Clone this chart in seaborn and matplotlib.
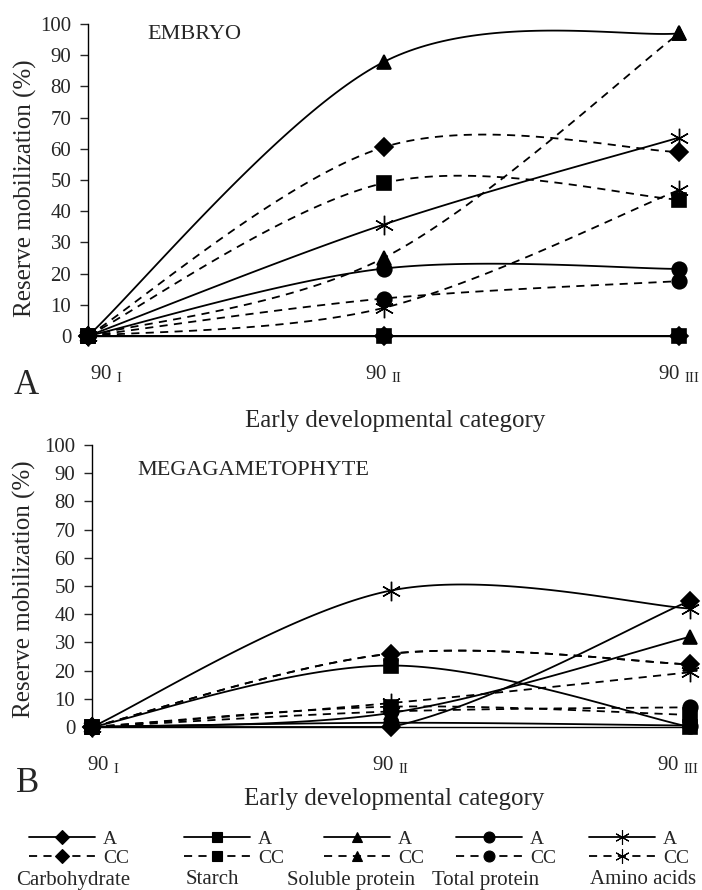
import numpy as np
import pandas as pd
import seaborn as sns
import matplotlib.pyplot as plt
import matplotlib.transforms as mtransforms
from matplotlib.lines import Line2D

sns.set_style("white")
plt.rcParams['font.family'] = ['Liberation Serif', 'DejaVu Serif']
plt.rcParams['mathtext.fontset'] = 'custom'
plt.rcParams['mathtext.rm'] = 'Liberation Serif'

# x categories
stages = [0, 1, 2]
stage_labels = ['90 $_{\\mathrm{I}}$', '90 $_{\\mathrm{II}}$', '90 $_{\\mathrm{III}}$']

# embryo (%)
emb_carb_a = [0, 0, 0]
emb_carb_cc = [0, 60.5, 59]
emb_starch_a = [0, 0, 0]
emb_starch_cc = [0, 49, 43.7]
emb_solprot_a = [0, 87.8, 97]
emb_solprot_cc = [0, 25, 97]
emb_totprot_a = [0, 21.6, 21.5]
emb_totprot_cc = [0, 12, 17.6]
emb_amino_a = [0, 35.7, 63.6]
emb_amino_cc = [0, 9, 46.8]

# megagametophyte (%)
meg_carb_a = [0, 0, 44.8]
meg_carb_cc = [0, 26, 22.2]
meg_starch_a = [0, 21.8, 0]
meg_starch_cc = [0, 7.2, 4.3]
meg_solprot_a = [0, 5, 32]
meg_solprot_cc = [0, 26, 22.2]
meg_totprot_a = [0, 1.5, 0.5]
meg_totprot_cc = [0, 5.5, 7]
meg_amino_a = [0, 48.4, 42]
meg_amino_cc = [0, 8.5, 19.4]

reserves = ['Carbohydrate', 'Starch', 'Soluble protein', 'Total protein', 'Amino acids']
markers = ['D', 's', '^', 'o', (6, 2, 0)]
msizes = [9, 10, 10.5, 10.5, 14]

emb = [(emb_carb_a, emb_carb_cc), (emb_starch_a, emb_starch_cc), (emb_solprot_a, emb_solprot_cc),
       (emb_totprot_a, emb_totprot_cc), (emb_amino_a, emb_amino_cc)]
meg = [(meg_carb_a, meg_carb_cc), (meg_starch_a, meg_starch_cc), (meg_solprot_a, meg_solprot_cc),
       (meg_totprot_a, meg_totprot_cc), (meg_amino_a, meg_amino_cc)]

DASH = (0, (4.5, 3.5))


def smooth(xs, ys, n=60):
    # excel-like smoothed line (catmull-rom bezier), kept above the axis
    p = np.column_stack([xs, ys]).astype(float)
    p = np.vstack([p[0], p, p[-1]])
    out = []
    t = np.linspace(0, 1, n)[:, None]
    for i in range(1, len(p) - 2):
        p0, p1, p2, p3 = p[i - 1], p[i], p[i + 1], p[i + 2]
        c1 = p1 + (p2 - p0) / 6
        c2 = p2 - (p3 - p1) / 6
        seg = (1 - t) ** 3 * p1 + 3 * (1 - t) ** 2 * t * c1 + 3 * (1 - t) * t ** 2 * c2 + t ** 3 * p2
        out.append(seg)
    out = np.vstack(out)
    out[:, 1] = np.maximum(out[:, 1], 0)
    return out


def draw(ax, series, title, tpos, shifts):
    for k, (a, cc) in enumerate(series):
        for vals, ls in ((a, '-'), (cc, DASH)):
            curve = smooth(stages, vals)
            sns.lineplot(x=curve[:, 0], y=curve[:, 1], ax=ax, color='black', lw=1.3,
                         linestyle=ls, sort=False, estimator=None, clip_on=False)
            filled = markers[k] != (6, 2, 0)
            ax.plot(stages, vals, linestyle='none', marker=markers[k], ms=msizes[k],
                    mfc='black', mec='black', mew=1.2 if filled else 1.0,
                    clip_on=False, zorder=4)
    ax.set_xlim(0, 2.02)
    ax.set_ylim(0, 100)
    ax.set_yticks(range(0, 101, 10))
    ax.set_xticks(stages)
    ax.set_xticklabels(stage_labels)
    ax.tick_params(axis='x', length=0, pad=20, labelsize=15)
    ax.tick_params(axis='y', length=6, width=1, direction='out', pad=6, labelsize=15, left=True)
    for lab, dx in zip(ax.get_xticklabels(), shifts):
        lab.set_transform(lab.get_transform() +
                          mtransforms.ScaledTranslation(dx / 100, 0, fig.dpi_scale_trans))
    for s in ['top', 'right']:
        ax.spines[s].set_visible(False)
    for s in ['left', 'bottom']:
        ax.spines[s].set_color('black')
        ax.spines[s].set_linewidth(1)
    ax.set_ylabel('Reserve mobilization (%)', fontsize=18)
    ax.set_xlabel('Early developmental category', fontsize=18)
    ax.text(tpos[0], tpos[1], title, transform=ax.transAxes, fontsize=16, va='center')


fig = plt.figure(figsize=(7.02, 8.90), dpi=100)
ax1 = fig.add_axes([88 / 702, 1 - 336 / 890, 597 / 702, 312 / 890])
ax2 = fig.add_axes([92 / 702, 1 - 727 / 890, 604 / 702, 282 / 890])

draw(ax1, emb, 'EMBRYO', (0.1, 0.965), [18, 0, 0])
draw(ax2, meg, 'MEGAGAMETOPHYTE', (0.075, 0.91), [11, 0, -12])
ax1.yaxis.set_label_coords(-0.085, 0.475)
ax1.xaxis.set_label_coords(0.514, -0.237)
ax2.yaxis.set_label_coords(-0.092, 0.49)
ax2.xaxis.set_label_coords(0.50, -0.216)

fig.text(26 / 702, 1 - 385 / 890, 'A', fontsize=25, ha='center', va='center')
fig.text(28 / 702, 1 - 783 / 890, 'B', fontsize=25, ha='center', va='center')

# legend, one block per reserve
leg_x = [29, 184, 324, 456, 589]
lab_x = [73, 212, 351, 486, 643]
for k, name in enumerate(reserves):
    h_a = Line2D([], [], color='black', lw=1.3, marker=markers[k], ms=msizes[k] * 0.75,
                 mfc='black', mec='black', mew=0.8)
    h_cc = Line2D([], [], color='black', lw=1.3, linestyle=DASH, marker=markers[k],
                  ms=msizes[k] * 0.75, mfc='black', mec='black', mew=0.8)
    fig.legend([h_a, h_cc], ['A', 'CC'], loc='upper left',
               bbox_to_anchor=(leg_x[k] / 702, 1 - 830 / 890), frameon=False,
               fontsize=14, handlelength=3.4, handletextpad=0.4, labelspacing=0.1,
               borderpad=0, borderaxespad=0)
    fig.text(lab_x[k] / 702, 1 - 880 / 890, name, fontsize=15, ha='center', va='center')

fig.savefig('out.png', dpi=100)
